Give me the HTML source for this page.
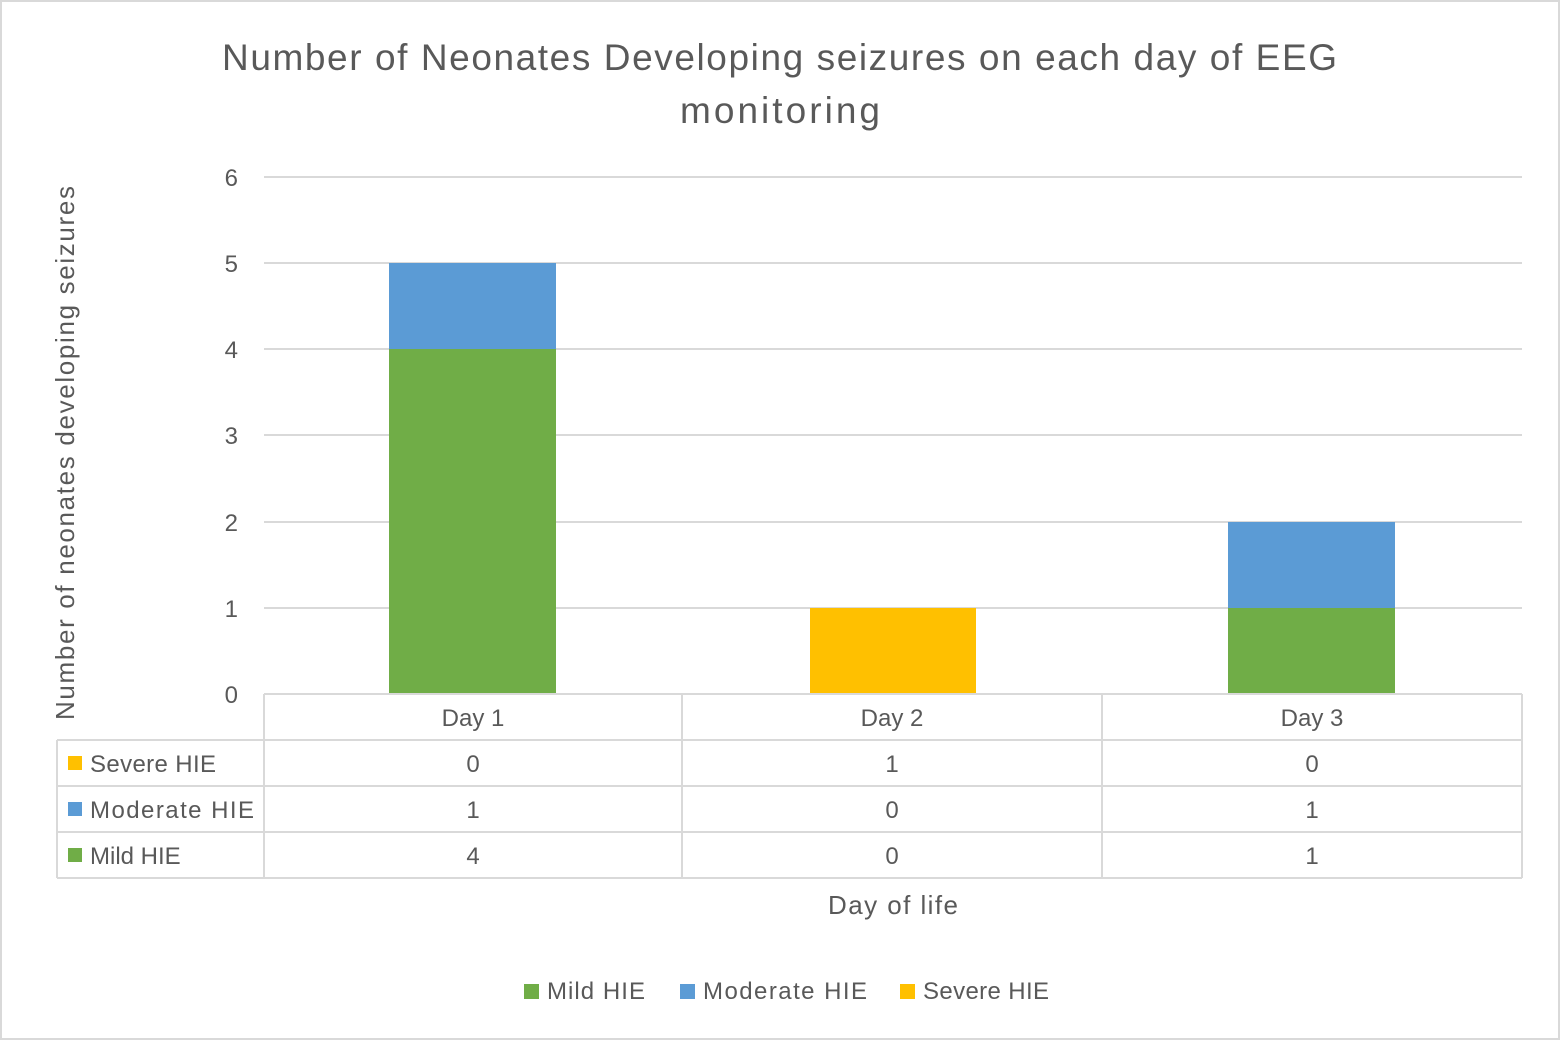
<!DOCTYPE html>
<html><head><meta charset="utf-8"><style>
html,body{margin:0;padding:0;background:#fff}
svg{display:block}
text{font-family:"Liberation Sans",sans-serif;fill:#595959}
</style></head><body>
<svg width="1560" height="1040" viewBox="0 0 1560 1040" xmlns="http://www.w3.org/2000/svg">
<rect x="1" y="1" width="1558" height="1038" fill="#fff" stroke="#d9d9d9" stroke-width="2"/>
<text x="222" y="70" font-size="37" textLength="1115" lengthAdjust="spacing">Number of Neonates Developing seizures on each day of EEG</text>
<text x="680" y="123" font-size="37" textLength="200" lengthAdjust="spacing">monitoring</text>
<g stroke="#d9d9d9" stroke-width="2">
<line x1="264" y1="177" x2="1522" y2="177"/>
<line x1="264" y1="263" x2="1522" y2="263"/>
<line x1="264" y1="349" x2="1522" y2="349"/>
<line x1="264" y1="435" x2="1522" y2="435"/>
<line x1="264" y1="522" x2="1522" y2="522"/>
<line x1="264" y1="608" x2="1522" y2="608"/>
</g>
<g font-size="24" text-anchor="end">
<text x="238" y="186">6</text><text x="238" y="272">5</text><text x="238" y="358">4</text>
<text x="238" y="444">3</text><text x="238" y="531">2</text><text x="238" y="617">1</text><text x="238" y="703">0</text>
</g>
<text transform="translate(74,720) rotate(-90)" font-size="26" textLength="534" lengthAdjust="spacing">Number of neonates developing seizures</text>
<rect x="389" y="349" width="167" height="345" fill="#70AD47"/>
<rect x="389" y="263" width="167" height="86" fill="#5B9BD5"/>
<rect x="810" y="608" width="166" height="86" fill="#FFC000"/>
<rect x="1228" y="608" width="167" height="86" fill="#70AD47"/>
<rect x="1228" y="522" width="167" height="86" fill="#5B9BD5"/>
<g stroke="#d9d9d9" stroke-width="2" fill="none">
<line x1="264" y1="694" x2="1522" y2="694"/>
<line x1="57" y1="740" x2="1522" y2="740"/>
<line x1="57" y1="786" x2="1522" y2="786"/>
<line x1="57" y1="832" x2="1522" y2="832"/>
<line x1="57" y1="878" x2="1522" y2="878"/>
<line x1="57" y1="740" x2="57" y2="878"/>
<line x1="264" y1="694" x2="264" y2="878"/>
<line x1="682" y1="694" x2="682" y2="878"/>
<line x1="1102" y1="694" x2="1102" y2="878"/>
<line x1="1522" y1="694" x2="1522" y2="878"/>
</g>
<g font-size="24" text-anchor="middle">
<text x="473" y="726">Day 1</text><text x="892" y="726">Day 2</text><text x="1312" y="726">Day 3</text>
<text x="473" y="772">0</text><text x="892" y="772">1</text><text x="1312" y="772">0</text>
<text x="473" y="818">1</text><text x="892" y="818">0</text><text x="1312" y="818">1</text>
<text x="473" y="864">4</text><text x="892" y="864">0</text><text x="1312" y="864">1</text>
</g>
<rect x="68" y="756" width="14" height="14" fill="#FFC000"/>
<rect x="68" y="802" width="14" height="14" fill="#5B9BD5"/>
<rect x="68" y="848" width="14" height="14" fill="#70AD47"/>
<g font-size="24">
<text x="90" y="772" textLength="126">Severe HIE</text>
<text x="90" y="818" textLength="164">Moderate HIE</text>
<text x="90" y="864">Mild HIE</text>
</g>
<text x="828" y="914" font-size="26" textLength="130">Day of life</text>
<rect x="524" y="984" width="15" height="15" fill="#70AD47"/>
<text x="547" y="999" font-size="24" textLength="98">Mild HIE</text>
<rect x="680" y="984" width="15" height="15" fill="#5B9BD5"/>
<text x="703" y="999" font-size="24" textLength="164">Moderate HIE</text>
<rect x="900" y="984" width="15" height="15" fill="#FFC000"/>
<text x="923" y="999" font-size="24" textLength="126">Severe HIE</text>
</svg>
</body></html>
